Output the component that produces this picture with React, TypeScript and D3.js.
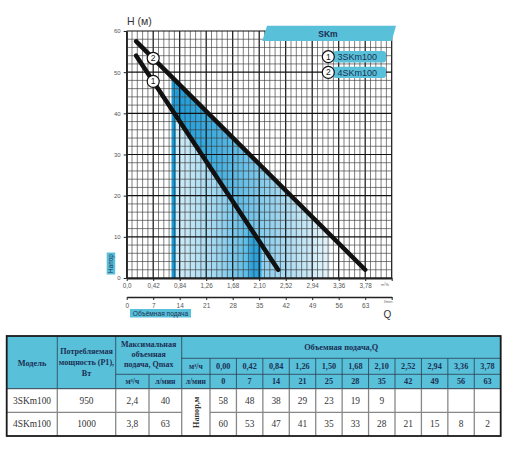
import * as d3 from 'd3';
import React, { useEffect, useRef } from 'react';

// chart axes
const H_TICKS = [0, 10, 20, 30, 40, 50, 60];
const Q_TICKS = [0, 0.42, 0.84, 1.26, 1.68, 2.1, 2.52, 2.94, 3.36, 3.78];
const L_TICKS = [0, 7, 14, 21, 28, 35, 42, 49, 56, 63];

// pump curves [Q m3/h, H m]
const CURVE_1: [number, number][] = [
  [0.15, 54],
  [2.4, 2],
];
const CURVE_2: [number, number][] = [
  [0.15, 57.5],
  [3.78, 2],
];
const CURVE_LABELS = ['3SKm100', '4SKm100'];

// working zone (Q m3/h)
const ZONE_START = 0.71;
const ZONE_EDGE = 0.78;
const ZONE_END = 3.22;

// table
const MODELS = ['3SKm100', '4SKm100'];
const POWER = ['950', '1000'];
const QMAX_M3 = ['2,4', '3,8'];
const QMAX_L = ['40', '63'];
const TABLE_Q_M3 = ['0,00', '0,42', '0,84', '1,26', '1,50', '1,68', '2,10', '2,52', '2,94', '3,36', '3,78'];
const TABLE_Q_L = ['0', '7', '14', '21', '25', '28', '35', '42', '49', '56', '63'];
const HEAD_3 = [58, 48, 38, 29, 23, 19, 9];
const HEAD_4 = [60, 53, 47, 41, 35, 33, 28, 21, 15, 8, 2];

const width = 512;
const height = 465;
const SANS = '"Liberation Sans", Arial, sans-serif';
const SERIF = '"Liberation Serif", "Times New Roman", serif';
const BLUE = '#58c0d8';
const NAVY = '#1c2f55';

const fmt = (v: number) => (v === 0 ? '0,0' : v.toFixed(2).replace('.', ','));

const PumpChart: React.FC = () => {
  const ref = useRef<SVGSVGElement>(null);

  useEffect(() => {
    if (!ref.current) {
      return;
    }
    const svg = d3.select(ref.current);
    svg.selectAll('*').remove();

    const x = d3.scaleLinear().domain([0, 4.2]).range([126.7, 391.7]);
    const xl = d3.scaleLinear().domain([0, 70]).range([126.7, 391.7]);
    const y = d3.scaleLinear().domain([0, 60]).range([278, 31]);
    const c1 = d3.scaleLinear().domain(CURVE_1.map((d) => d[0])).range(CURVE_1.map((d) => d[1]));
    const c2 = d3.scaleLinear().domain(CURVE_2.map((d) => d[0])).range(CURVE_2.map((d) => d[1]));
    const c1Zero = c1.invert(0);

    // gradients
    const defs = svg.append('defs');
    const addGrad = (id: string, stops: [number, string][]) => {
      const g = defs
        .append('linearGradient')
        .attr('id', id)
        .attr('gradientUnits', 'userSpaceOnUse')
        .attr('x1', x(ZONE_EDGE))
        .attr('x2', x(ZONE_END))
        .attr('y1', 0)
        .attr('y2', 0);
      stops.forEach(([q, c]) => {
        g.append('stop')
          .attr('offset', (x(q) - x(ZONE_EDGE)) / (x(ZONE_END) - x(ZONE_EDGE)))
          .attr('stop-color', c);
      });
    };
    addGrad('shadeLow', [
      [0.78, '#d2ecf8'],
      [1.4, '#a2d8f1'],
      [1.9, '#5ebce6'],
      [1.98, '#2aa2db'],
      [2.12, '#2aa2db'],
      [2.15, '#8fcfee'],
      [2.5, '#a6daf1'],
    ]);
    addGrad('shadeUp', [
      [0.78, '#1f9bd7'],
      [1.3, '#3aaade'],
      [1.9, '#6cc1e8'],
      [2.5, '#a8daf1'],
      [3.22, '#e6f4fb'],
    ]);

    const poly = (pts: [number, number][]) =>
      pts.map(([q, h]) => `${x(q)},${y(h)}`).join(' ');

    const zone = svg.append('g');
    // area between curves and right of curve 1
    const upPts: [number, number][] = [];
    d3.range(ZONE_EDGE, ZONE_END + 0.001, 0.02).forEach((q) => upPts.push([q, c2(q)]));
    upPts.push([ZONE_END, c2(ZONE_END)], [ZONE_END, 0], [c1Zero, 0], [ZONE_EDGE, c1(ZONE_EDGE)]);
    zone.append('polygon').attr('points', poly(upPts)).attr('fill', 'url(#shadeUp)');
    zone
      .append('polygon')
      .attr('points', poly([[ZONE_EDGE, 0], [ZONE_EDGE, c1(ZONE_EDGE)], [c1Zero, 0]]))
      .attr('fill', 'url(#shadeLow)');
    zone
      .append('polygon')
      .attr('points', poly([[ZONE_START, 0], [ZONE_START, c2(ZONE_START)], [ZONE_EDGE, c2(ZONE_EDGE)], [ZONE_EDGE, 0]]))
      .attr('fill', '#1c9bd6');

    // grid
    const grid = svg.append('g');
    d3.range(0, 51).forEach((i) => {
      grid
        .append('line')
        .attr('x1', x(i * 0.084))
        .attr('x2', x(i * 0.084))
        .attr('y1', y(0))
        .attr('y2', y(60))
        .attr('stroke', i % 5 === 0 ? '#111' : '#3a3a3a')
        .attr('stroke-width', i % 5 === 0 ? 1.2 : 0.65);
    });
    d3.range(0, 31).forEach((i) => {
      grid
        .append('line')
        .attr('x1', x(0))
        .attr('x2', x(4.2))
        .attr('y1', y(i * 2))
        .attr('y2', y(i * 2))
        .attr('stroke', i % 5 === 0 ? '#111' : '#3a3a3a')
        .attr('stroke-width', i % 5 === 0 ? 1.2 : 0.65);
    });

    // axes
    const styleAxis = (g: d3.Selection<SVGGElement, unknown, null, undefined>, size: number) => {
      g.attr('font-family', SANS).attr('font-size', size);
      g.selectAll('text').attr('fill', '#555');
      g.selectAll('line').attr('stroke', '#222');
      g.select('.domain').attr('stroke', '#222');
    };
    const axQ = svg
      .append('g')
      .attr('transform', `translate(0,${y(0)})`)
      .call(d3.axisBottom(x).tickValues([...Q_TICKS, 4.2]).tickFormat((d) => ((d as number) > 4 ? '' : fmt(d as number))).tickSize(3).tickSizeOuter(0));
    styleAxis(axQ, 6.3);
    axQ.select('.domain').attr('stroke-width', 1.8);

    const axL = svg
      .append('g')
      .attr('transform', 'translate(0,297)')
      .call(d3.axisBottom(xl).tickValues([...L_TICKS, 70]).tickFormat((d) => ((d as number) > 65 ? '' : String(d))).tickSize(3).tickSizeOuter(0));
    styleAxis(axL, 6.5);
    axL.select('.domain').attr('stroke-width', 1.5);

    const axH = svg
      .append('g')
      .attr('transform', `translate(${x(0)},0)`)
      .call(d3.axisLeft(y).tickValues(H_TICKS).tickSize(3).tickSizeOuter(0));
    styleAxis(axH, 6);
    axH.select('.domain').attr('stroke-width', 1.4);

    svg.append('text').attr('x', 381).attr('y', 286).attr('font-size', 4).attr('font-family', SANS).attr('fill', '#666').text('m³/h');
    svg.append('text').attr('x', 384).attr('y', 303).attr('font-size', 4).attr('font-family', SANS).attr('fill', '#666').text('l/min');
    svg.append('text').attr('x', 387.5).attr('y', 318).attr('text-anchor', 'middle').attr('font-size', 10).attr('font-family', SANS).attr('fill', '#333').text('Q');
    svg.append('text').attr('x', 127).attr('y', 25).attr('font-size', 10.5).attr('font-family', SANS).attr('fill', '#333').text('H (м)');

    svg.append('rect').attr('x', 130).attr('y', 309).attr('width', 61).attr('height', 8.5).attr('fill', BLUE);
    svg.append('text').attr('x', 160.5).attr('y', 313.4).attr('dy', '0.35em').attr('text-anchor', 'middle').attr('font-size', 6.6).attr('font-family', SANS).attr('fill', NAVY).text('Объёмная подача');
    svg.append('rect').attr('x', 106.7).attr('y', 252.5).attr('width', 8.5).attr('height', 22).attr('fill', BLUE);
    svg
      .append('text')
      .attr('transform', 'translate(111,263.5) rotate(-90)')
      .attr('dy', '0.35em')
      .attr('text-anchor', 'middle')
      .attr('font-size', 6.4)
      .attr('font-family', SANS)
      .attr('fill', NAVY)
      .text('Напор');

    // curves
    const line = d3
      .line<[number, number]>()
      .x((d) => x(d[0]))
      .y((d) => y(d[1]));
    [CURVE_1, CURVE_2].forEach((c) => {
      svg
        .append('path')
        .attr('d', line(c))
        .attr('fill', 'none')
        .attr('stroke', '#111')
        .attr('stroke-width', 4.5)
        .attr('stroke-linecap', 'round');
    });
    const marker = (cx: number, cy: number, label: string) => {
      svg.append('circle').attr('cx', cx).attr('cy', cy).attr('r', 6).attr('fill', '#fff').attr('stroke', '#111').attr('stroke-width', 1.2);
      svg.append('text').attr('x', cx).attr('y', cy).attr('dy', '0.36em').attr('text-anchor', 'middle').attr('font-size', 8.5).attr('font-family', SANS).attr('fill', '#111').text(label);
    };
    marker(x(0.42), y(c1(0.42)), '1');
    marker(x(0.42), y(c2(0.42)), '2');

    // banner
    svg.append('polygon').attr('points', '267,25.7 396,25.7 391.7,41 262.3,41').attr('fill', BLUE);
    svg.append('text').attr('x', 328).attr('y', 33.5).attr('dy', '0.36em').attr('text-anchor', 'middle').attr('font-size', 8.5).attr('font-weight', 'bold').attr('font-family', SANS).attr('fill', NAVY).text('SKm');

    // legend
    CURVE_LABELS.forEach((lab, i) => {
      const cy = 56.7 + i * 15.7;
      svg.append('rect').attr('x', 333).attr('y', cy - 5.7).attr('width', 53).attr('height', 11.4).attr('rx', 3).attr('fill', BLUE);
      svg.append('text').attr('x', 337.5).attr('y', cy).attr('dy', '0.36em').attr('font-size', 9).attr('font-family', SANS).attr('fill', NAVY).text(lab);
      marker(328.3, cy, String(i + 1));
    });

    // table
    const t = svg.append('g').attr('font-family', SERIF);
    const colX = [6.7, 57.3, 115.7, 149, 181.7, 210];
    const vx = d3.scaleBand().domain(TABLE_Q_M3).range([210, 500.7]);
    const rowY = [336, 358.3, 374.3, 388.7, 412.3, 436];
    const L = 6.7;
    const R = 500.7;
    t.append('rect').attr('x', L).attr('y', rowY[0]).attr('width', R - L).attr('height', rowY[3] - rowY[0]).attr('fill', BLUE);
    t.append('rect').attr('x', L).attr('y', rowY[3]).attr('width', R - L).attr('height', rowY[5] - rowY[3]).attr('fill', '#fff');

    const hl = (x1: number, x2: number, yy: number, c: string, w: number) =>
      t.append('line').attr('x1', x1).attr('x2', x2).attr('y1', yy).attr('y2', yy).attr('stroke', c).attr('stroke-width', w);
    const vl = (xx: number, y1: number, y2: number, c: string, w: number) =>
      t.append('line').attr('x1', xx).attr('x2', xx).attr('y1', y1).attr('y2', y2).attr('stroke', c).attr('stroke-width', w);

    // header lines
    hl(colX[4], R, rowY[1], '#2c3e50', 0.8);
    hl(colX[2], R, rowY[2], '#2c3e50', 0.8);
    hl(L, R, rowY[3], '#2c3e50', 1);
    vl(colX[1], rowY[0], rowY[3], '#2c3e50', 0.8);
    vl(colX[2], rowY[0], rowY[3], '#2c3e50', 0.8);
    vl(colX[3], rowY[2], rowY[3], '#2c3e50', 0.8);
    vl(colX[4], rowY[0], rowY[3], '#2c3e50', 0.8);
    TABLE_Q_M3.forEach((q) => vl(vx(q) as number, rowY[1], rowY[3], '#2c3e50', 0.8));
    // body lines
    hl(L, colX[4], rowY[4], '#888', 1.3);
    hl(colX[5], R, rowY[4], '#888', 1.3);
    [colX[1], colX[2], colX[3], colX[4]].forEach((xx) => vl(xx, rowY[3], rowY[5], '#888', 1.3));
    TABLE_Q_M3.forEach((q) => vl(vx(q) as number, rowY[3], rowY[5], '#888', 1.3));
    t.append('rect').attr('x', L).attr('y', rowY[0]).attr('width', R - L).attr('height', rowY[5] - rowY[0]).attr('fill', 'none').attr('stroke', '#1a1a1a').attr('stroke-width', 1.8);

    const txt = (xx: number, yy: number, s: string, size: number, bold: boolean, color: string) =>
      t
        .append('text')
        .attr('x', xx)
        .attr('y', yy)
        .attr('dy', '0.35em')
        .attr('text-anchor', 'middle')
        .attr('font-size', size)
        .attr('font-weight', bold ? 'bold' : 'normal')
        .attr('fill', color)
        .text(s);

    const mid = (a: number, b: number) => (a + b) / 2;
    txt(mid(colX[0], colX[1]), 363, 'Модель', 8.3, true, NAVY);
    ['Потребляемая', 'мощность (P1),', 'Вт'].forEach((s, i) => txt(mid(colX[1], colX[2]), 351.5 + i * 11, s, 8.1, true, NAVY));
    ['Максимальная', 'объемная', 'подача, Qmax'].forEach((s, i) => txt(mid(colX[2], colX[4]), 344.5 + i * 9.6, s, 8, true, NAVY));
    txt(mid(colX[2], colX[3]), 381.5, 'м³/ч', 7.5, true, NAVY);
    txt(mid(colX[3], colX[4]), 381.5, 'л/мин', 7.5, true, NAVY);
    txt(mid(colX[4], R), 347, 'Объемная подача,Q', 8.3, true, NAVY);
    txt(mid(colX[4], colX[5]), 366.3, 'м³/ч', 7.5, true, NAVY);
    txt(mid(colX[4], colX[5]), 381.5, 'л/мин', 7.5, true, NAVY);
    const bw = vx.bandwidth();
    TABLE_Q_M3.forEach((q, i) => {
      txt((vx(q) as number) + bw / 2, 366.3, q, 8.2, true, NAVY);
      txt((vx(q) as number) + bw / 2, 381.5, TABLE_Q_L[i], 8.2, true, NAVY);
    });

    const rows = [HEAD_3, HEAD_4];
    MODELS.forEach((m, r) => {
      const cy = mid(rowY[3 + r], rowY[4 + r]);
      txt(mid(colX[0], colX[1]), cy, m, 9.4, false, '#333');
      txt(mid(colX[1], colX[2]), cy, POWER[r], 9.4, false, '#333');
      txt(mid(colX[2], colX[3]), cy, QMAX_M3[r], 9.4, false, '#333');
      txt(mid(colX[3], colX[4]), cy, QMAX_L[r], 9.4, false, '#333');
      rows[r].forEach((v, i) => txt((vx(TABLE_Q_M3[i]) as number) + bw / 2, cy, String(v), 9.4, false, '#333'));
    });
    t.append('text')
      .attr('transform', `translate(${mid(colX[4], colX[5])},${rowY[4]}) rotate(-90)`)
      .attr('dy', '0.35em')
      .attr('text-anchor', 'middle')
      .attr('font-size', 8.2)
      .attr('font-weight', 'bold')
      .attr('fill', '#333')
      .text('Напор,м');
  }, []);

  return (
    <svg
      ref={ref}
      width={width}
      height={height}
      viewBox={`0 0 ${width} ${height}`}
      style={{ position: 'absolute', left: 0, top: 0, background: '#fff' }}
    ></svg>
  );
};

export default function App() {
  return <PumpChart />;
}
